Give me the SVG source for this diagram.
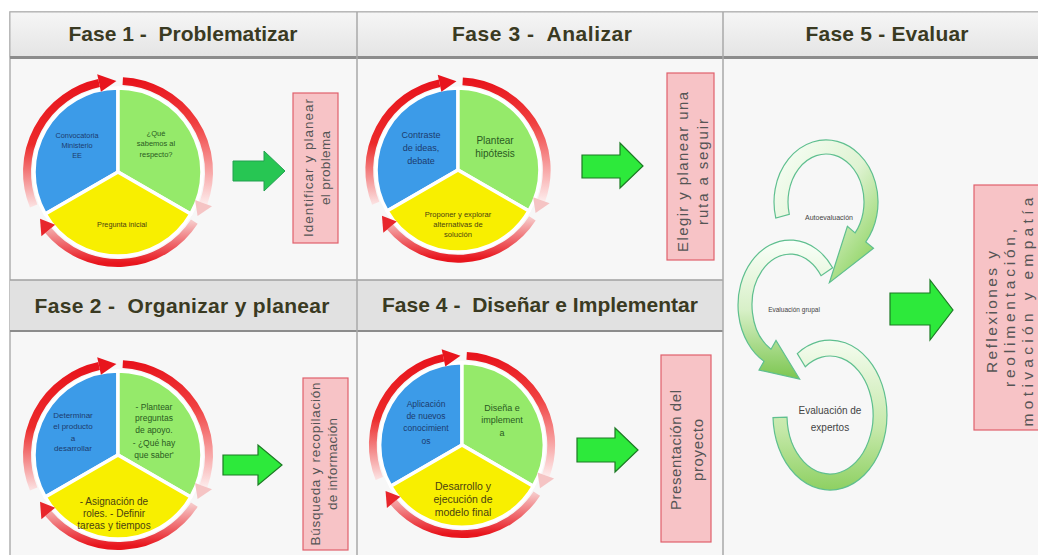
<svg xmlns="http://www.w3.org/2000/svg" width="1038" height="555" viewBox="0 0 1038 555">
<style>
.t{font-family:"Liberation Sans",Arial,sans-serif;font-weight:bold;font-size:21px;fill:#3a3a22;text-anchor:middle}
.c{font-family:"Liberation Sans",Arial,sans-serif;text-anchor:middle}
.cb{fill:#1d3c6e}
.cg{fill:#2a5a22}
.cy{fill:#4a4210}
.pb{fill:#f7c3c6;stroke:#e0606c;stroke-width:1.2}
.pt{font-family:"Liberation Sans",Arial,sans-serif;fill:#555;text-anchor:middle}
.sb{fill:#3c9be8;stroke:#fff;stroke-width:3.5;stroke-linejoin:round}
.sg{fill:#95ea6a;stroke:#fff;stroke-width:3.5;stroke-linejoin:round}
.sy{fill:#f8ef00;stroke:#fff;stroke-width:3.5;stroke-linejoin:round}
.ring{fill:none;stroke-width:8}
.ga{fill:#2de93b;stroke:#1c7a24;stroke-width:1.2}
.sp{stroke:#5fbf8f;stroke-width:1.2}
.e{font-family:"Liberation Sans",Arial,sans-serif;fill:#444;text-anchor:middle}
</style>
<defs>
<linearGradient id="hdr" x1="0" y1="0" x2="0" y2="1"><stop offset="0" stop-color="#f6f6f6"/><stop offset="1" stop-color="#e4e4e4"/></linearGradient>
<linearGradient id="rA" x1="0" y1="0" x2="0" y2="1"><stop offset="0" stop-color="#e8151d"/><stop offset="0.5" stop-color="#ec2a2a"/><stop offset="1" stop-color="#fbe0e0"/></linearGradient>
<linearGradient id="rB" x1="0" y1="0" x2="0" y2="1"><stop offset="0" stop-color="#e8151d"/><stop offset="0.35" stop-color="#f04040"/><stop offset="1" stop-color="#fdeaea"/></linearGradient>
<linearGradient id="rC" x1="0" y1="0" x2="0" y2="1"><stop offset="0" stop-color="#f6c8c8"/><stop offset="1" stop-color="#e8151d"/></linearGradient>
<linearGradient id="sp1" x1="0" y1="0" x2="1" y2="1"><stop offset="0" stop-color="#fafffa"/><stop offset="0.5" stop-color="#dff3d2"/><stop offset="0.85" stop-color="#9ad872"/><stop offset="1" stop-color="#7cc650"/></linearGradient>
<linearGradient id="sp2" x1="0" y1="0" x2="0" y2="1"><stop offset="0" stop-color="#fafffa"/><stop offset="0.5" stop-color="#d8f0c8"/><stop offset="1" stop-color="#7cc650"/></linearGradient>
<linearGradient id="sp3" x1="0" y1="0" x2="0" y2="1"><stop offset="0" stop-color="#f5fcf0"/><stop offset="0.6" stop-color="#c4e8a8"/><stop offset="1" stop-color="#8ed062"/></linearGradient>
<g id="cyc">
<path class="sb" d="M0 0 L-72.75 42 A84 84 0 0 1 0 -84 Z"/>
<path class="sg" d="M0 0 L0 -84 A84 84 0 0 1 72.75 42 Z"/>
<path class="sy" d="M0 0 L72.75 42 A84 84 0 0 1 -72.75 42 Z"/>
<path class="ring" stroke="url(#rA)" d="M-84.37 34.09 A91 91 0 0 1 -18.92 -89.01"/>
<polygon points="-17.05,-80.21 -20.79,-97.81 -1.59,-90.99" fill="#e8151d"/>
<path class="ring" stroke="url(#rB)" d="M4.76 -90.88 A91 91 0 0 1 85.51 31.12"/>
<polygon points="77.05,28.04 93.97,34.2 79.59,44.12" fill="#f5c4c4"/>
<path class="ring" stroke="url(#rC)" d="M76.32 49.56 A91 91 0 0 1 -69.71 58.49"/>
<polygon points="-62.81,52.71 -76.6,64.28 -78,46.87" fill="#e8262c"/>
</g>
</defs>
<rect width="1038" height="555" fill="#ffffff"/>
<g id="table">
<rect x="10" y="12" width="1040" height="560" fill="#f7f7f7" stroke="#b0b0b0" stroke-width="1.5"/>
<rect x="10" y="12" width="1040" height="45" fill="url(#hdr)" stroke="#b0b0b0" stroke-width="1"/>
<line x1="10" y1="57.5" x2="1038" y2="57.5" stroke="#8c8c8c" stroke-width="3"/>
<rect x="10" y="280" width="713" height="51" fill="#e1e1e1"/>
<line x1="10" y1="280" x2="723" y2="280" stroke="#a0a0a0" stroke-width="1.5"/>
<line x1="10" y1="331" x2="723" y2="331" stroke="#8c8c8c" stroke-width="2"/>
<line x1="357" y1="12" x2="357" y2="555" stroke="#a8a8a8" stroke-width="1.5"/>
<line x1="723" y1="12" x2="723" y2="555" stroke="#a8a8a8" stroke-width="1.5"/>
</g>
<g id="headers">
<text class="t" x="183" y="41" textLength="229" style="white-space:pre">Fase 1 -  Problematizar</text>
<text class="t" x="542" y="41" textLength="180" style="white-space:pre">Fase 3 -  Analizar</text>
<text class="t" x="887" y="41" textLength="163">Fase 5 - Evaluar</text>
<text class="t" x="182" y="313" textLength="295" style="white-space:pre">Fase 2 -  Organizar y planear</text>
<text class="t" x="540" y="312" textLength="316" style="white-space:pre">Fase 4 -  Diseñar e Implementar</text>
</g>
<g id="fase1-ciclo">
<use href="#cyc" transform="translate(118 172)"/>
<text class="c cb" font-size="7.3"><tspan x="77" y="138">Convocatoria</tspan><tspan x="77" y="148">Ministerio</tspan><tspan x="77" y="158">EE</tspan></text>
<text class="c cg" font-size="7.5"><tspan x="156" y="136">¿Qué</tspan><tspan x="156" y="146">sabemos al</tspan><tspan x="156" y="157">respecto?</tspan></text>
<text class="c cy" font-size="7.3" x="122" y="227">Pregunta inicial</text>
</g>
<g id="fase1-resultado">
<rect class="pb" x="293" y="93" width="45" height="150"/>
<text class="pt" font-size="13.5" transform="translate(313 168) rotate(-90)" textLength="138">Identificar y planear</text>
<text class="pt" font-size="13.5" transform="translate(330 168) rotate(-90)" textLength="74">el problema</text>
</g>
<g id="fase3-ciclo">
<use href="#cyc" transform="translate(458 170) scale(0.975)"/>
<text class="c cb" font-size="9"><tspan x="421" y="138">Contraste</tspan><tspan x="421" y="151">de ideas,</tspan><tspan x="421" y="164">debate</tspan></text>
<text class="c cg" font-size="10"><tspan x="495" y="144">Plantear</tspan><tspan x="495" y="157">hipótesis</tspan></text>
<text class="c cy" font-size="7.6"><tspan x="458" y="217">Proponer y explorar</tspan><tspan x="458" y="227">alternativas de</tspan><tspan x="458" y="237">solución</tspan></text>
</g>
<g id="fase3-resultado">
<rect class="pb" x="667" y="73" width="47" height="187"/>
<text class="pt" font-size="15" transform="translate(688 172) rotate(-90)" textLength="160">Elegir y planear una</text>
<text class="pt" font-size="15" transform="translate(708 172) rotate(-90)" textLength="106">ruta a seguir</text>
</g>
<g id="fase2-ciclo">
<use href="#cyc" transform="translate(118 455)"/>
<text class="c cb" font-size="8"><tspan x="73" y="418">Determinar</tspan><tspan x="73" y="429">el producto</tspan><tspan x="73" y="441">a</tspan><tspan x="73" y="451">desarrollar</tspan></text>
<text class="c cg" font-size="8.5"><tspan x="154" y="410">- Plantear</tspan><tspan x="154" y="421">preguntas</tspan><tspan x="154" y="433">de apoyo.</tspan><tspan x="154" y="446">- ¿Qué hay</tspan><tspan x="154" y="458">que saber'</tspan></text>
<text class="c cy" font-size="10"><tspan x="114" y="505">- Asignación de</tspan><tspan x="114" y="517">roles. - Definir</tspan><tspan x="114" y="529">tareas y tiempos</tspan></text>
</g>
<g id="fase2-resultado">
<rect class="pb" x="303" y="378" width="45" height="172"/>
<text class="pt" font-size="13.5" transform="translate(320 464) rotate(-90)" textLength="163">Búsqueda y recopilación</text>
<text class="pt" font-size="13.5" transform="translate(337 464) rotate(-90)" textLength="92">de información</text>
</g>
<g id="fase4-ciclo">
<use href="#cyc" transform="translate(462 445) scale(0.98)"/>
<text class="c cb" font-size="8.5"><tspan x="426" y="407">Aplicación</tspan><tspan x="426" y="419">de nuevos</tspan><tspan x="426" y="431">conocimient</tspan><tspan x="426" y="444">os</tspan></text>
<text class="c cg" font-size="9"><tspan x="502" y="411">Diseña e</tspan><tspan x="502" y="423">implement</tspan><tspan x="502" y="436">a</tspan></text>
<text class="c cy" font-size="10.5"><tspan x="463" y="490">Desarrollo y</tspan><tspan x="463" y="503">ejecución de</tspan><tspan x="463" y="516">modelo final</tspan></text>
</g>
<g id="fase4-resultado">
<rect class="pb" x="661" y="355" width="50" height="187"/>
<text class="pt" font-size="15" transform="translate(681 450) rotate(-90)" textLength="120">Presentación del</text>
<text class="pt" font-size="15" transform="translate(703 450) rotate(-90)" textLength="62">proyecto</text>
</g>
<g id="fase5-expertos">
<path class="sp" fill="url(#sp3)" d="M797.3 353.6 A57 75 0 1 1 773 417.6 L787 417.1 A43 59 0 1 0 805.3 366.7 Z"/>
<text class="e" font-size="10"><tspan x="830" y="414">Evaluación de</tspan><tspan x="830" y="431">expertos</tspan></text>
</g>
<g id="fase5-grupal">
<path class="sp" fill="url(#sp2)" d="M832.6 267.7 A52 65 0 1 0 764 361.3 L759 370 L799.6 379 L776 340.5 L771 349.2 A38 51 0 1 1 821.1 275.7 Z"/>
<text class="e" font-size="6.5" x="794" y="312">Evaluación grupal</text>
</g>
<g id="fase5-auto">
<path class="sp" fill="url(#sp1)" d="M775.8 218.1 A52 62 0 1 1 865.8 241.9 L873.5 248.3 L829.4 282.7 L847.4 226.4 L855.1 232.9 A38 48 0 1 0 789.3 214.4 Z"/>
<text class="e" font-size="7" x="829" y="220">Autoevaluación</text>
</g>
<g id="fase5-resultado">
<rect class="pb" x="974" y="185" width="80" height="245"/>
<text class="pt" font-size="15.5" transform="translate(997 312) rotate(-90)" textLength="122">Reflexiones y</text>
<text class="pt" font-size="15.5" transform="translate(1015 308) rotate(-90)" textLength="158">reolimentación,</text>
<text class="pt" font-size="15.5" transform="translate(1033 312) rotate(-90)" textLength="229">motivación y empatía</text>
</g>
<g id="connectors">
<polygon points="233,161 264,161 264,151 285,171 264,191 264,181 233,181" fill="#27c653" stroke="#22a050" stroke-width="1"/>
<polygon class="ga" points="582,155 620,155 620,143 643,166 620,188 620,178 582,178"/>
<polygon class="ga" points="223,455 258,455 258,445 282,465 258,485 258,475 223,475"/>
<polygon class="ga" points="577,438 615,438 615,428 638,450 615,472 615,462 577,462"/>
<polygon class="ga" points="890,293 930,293 930,280 953,310 930,340 930,325 890,325"/>
</g>
</svg>
